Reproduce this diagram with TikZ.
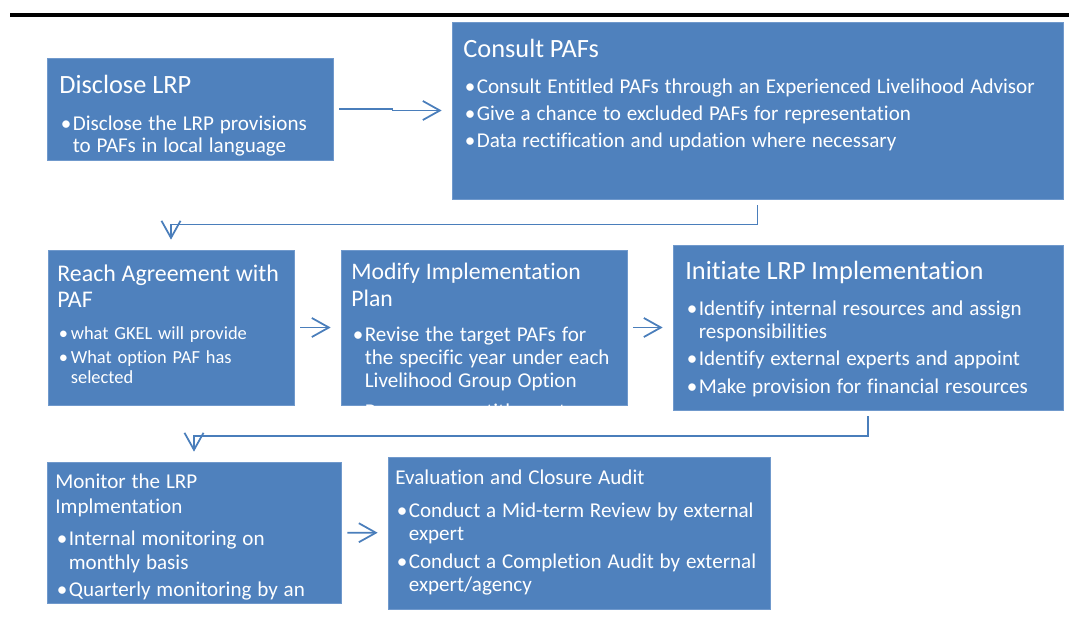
\documentclass[tikz,border=0pt]{standalone}
\usepackage{fontspec}
\setmainfont{Carlito}[Ligatures=NoCommon]
\usetikzlibrary{arrows.meta,fit,calc}
\definecolor{boxblue}{HTML}{4F81BD}
\definecolor{edgeblue}{HTML}{7099CC}
\definecolor{flowblue}{HTML}{4A7EBB}
\newcommand{\tstrut}{\rule{0pt}{12pt}}
\newcommand{\ttl}[3]{\noindent\fontsize{#1}{#2}\selectfont\tstrut #3\par}
\newcommand{\bsz}[2]{\fontsize{#1}{#2}\selectfont}
\newcommand{\bul}[2]{\par\vspace{#1}\hangindent=.27cm\hangafter=1\noindent
  \hbox to .27cm{\hskip.03cm\textbullet\hss}#2\par}

\begin{document}
\begin{tikzpicture}[x=0.02cm,y=-0.02cm,
  blk/.style={draw=edgeblue,line width=0.4pt,fill=boxblue,inner sep=0pt},
  txt/.style={anchor=north west,inner sep=0pt,text=white,align=left,
    execute at begin node={\lineskiplimit=-\maxdimen\parskip=0pt}},
  flow/.style={draw=flowblue,line width=1pt,-{Straight Barb[length=0.34cm,width=0.38cm]},
    shorten <=0.12cm,shorten >=0.2cm}]
  \useasboundingbox (0,0) rectangle (1069,635);
  \draw[line width=2.3pt] (10,15) -- (1069,15);

  % boxes
  \node[blk, fit={(47,58) (333,160)}] (dl) {};
  \node[blk, fit={(452,22) (1063,199)}] (cp) {};
  \node[blk, fit={(48,250) (294,405)}] (ra) {};
  \node[blk, fit={(341,250) (627,405)}] (mp) {};
  \node[blk, fit={(673,245) (1063,410)}] (ia) {};
  \node[blk, fit={(47,462) (341,603)}] (mo) {};
  \node[blk, fit={(388,457) (770,609)}] (ev) {};

  % texts
  \node[txt, text width=5.4cm] (dl-t) at (59,71.9)
    {\ttl{15}{15}{Disclose LRP}\bsz{12}{12.5}%
     \bul{8.6pt}{Disclose the LRP provisions\newline to PAFs in local language}};
  \node[txt, text width=11.9cm] (cp-t) at (463,35.9)
    {\ttl{15}{15}{Consult PAFs}\bsz{12}{13.1}%
     \bul{7.4pt}{Consult Entitled PAFs through an Experienced Livelihood Advisor}%
     \bul{2.3pt}{Give a chance to excluded PAFs for representation}%
     \bul{2.3pt}{Data rectification and updation where necessary}};
  \node[txt, text width=4.66cm] (ra-t) at (57,259.9)
    {\ttl{13.6}{14.8}{Reach Agreement with\newline PAF}\bsz{10.5}{11.4}%
     \bul{6.8pt}{what GKEL will provide}%
     \bul{2.3pt}{What option PAF has\newline selected}};
  \begin{scope}
    \clip (mp.south west) rectangle (mp.north east);
    \node[txt, text width=5.44cm] (mp-t) at (351,257.9)
      {\ttl{13.5}{15.4}{Modify Implementation\newline Plan}\bsz{12}{13.1}%
       \bul{6.8pt}{Revise the target PAFs for\newline the specific year under each\newline Livelihood Group Option}%
       \bul{4.8pt}{Prepare an entitlement}};
  \end{scope}
  \node[txt, text width=7.48cm] (ia-t) at (685,257.9)
    {\ttl{15}{15}{Initiate LRP Implementation}\bsz{12}{13.1}%
     \bul{7.4pt}{Identify internal resources and assign\newline responsibilities}%
     \bul{2.5pt}{Identify external experts and appoint}%
     \bul{2.5pt}{Make provision for financial resources}};
  \begin{scope}
    \clip (mo.south west) rectangle (mo.north east);
    \node[txt, text width=5.64cm] (mo-t) at (55,466.9)
      {\ttl{12}{14.2}{Monitor the LRP\newline Implmentation}\bsz{12}{13.7}%
       \bul{4.5pt}{Internal monitoring on\newline monthly basis}%
       \bul{1.7pt}{Quarterly monitoring by an}};
  \end{scope}
  \node[txt, text width=7.42cm] (ev-t) at (395,462.9)
    {\ttl{12}{12}{Evaluation and Closure Audit}\bsz{12}{13.1}%
     \bul{5.7pt}{Conduct a Mid-term Review by external\newline expert}%
     \bul{2.8pt}{Conduct a Completion Audit by external\newline expert/agency}};

  % connectors
  \draw[flow] (dl.east) -| ($(dl.east)!.5!(cp.west)$) |- (cp.west);
  \draw[flow] (cp.south) |- ($(cp.south)!.5!(ra.north)$) -| (ra.north);
  \draw[flow] (ra) -- (mp);
  \draw[flow] (mp) -- (ia);
  \draw[flow] (ia.south) |- ($(ia.south)!.5!(mo.north)$) -| (mo.north);
  \draw[flow] (mo) -- (ev);
\end{tikzpicture}
\end{document}
